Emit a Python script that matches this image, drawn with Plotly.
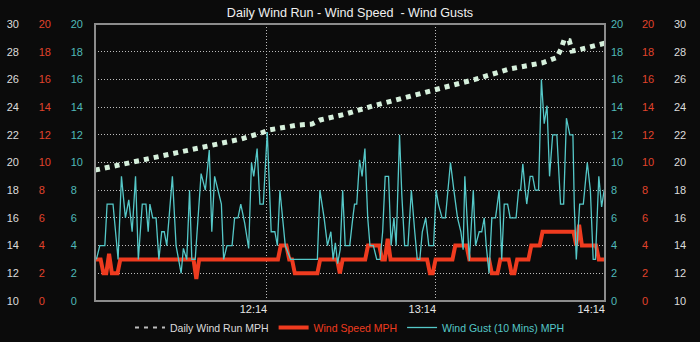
import plotly.graph_objects as go
import pandas as pd

# ---------------- data (minutes after 11:13:06) ----------------
BASE = pd.Timestamp("2024-06-01 11:13:06")

run_minutes = [0, 14, 28, 42, 52, 59, 62, 72, 77, 80, 89, 99, 111, 121, 135, 147,
               159, 164, 165.5, 166.7, 168.5, 169.5, 171, 181.5]
run_mph = [19.45, 20.05, 20.7, 21.3, 21.7, 22.13, 22.36, 22.7, 22.77, 23.07, 23.5, 24.1,
           24.73, 25.2, 26.0, 26.74, 27.2, 27.57, 28.16, 28.87, 28.8, 28.05, 28.1, 28.63]

speed_minutes = list(range(182))
speed_mph = [
    3, 3, 3, 2, 2, 3.4, 2, 2, 2, 3,
    3, 3, 3, 3, 3, 3, 3, 3, 3, 3,
    3, 3, 3, 3, 3, 3, 3, 3, 3, 3,
    3, 3, 3, 3, 3, 3, 1.6, 3, 3, 3,
    3, 3, 3, 3, 3, 3, 3, 3, 3, 3,
    3, 3, 3, 3, 3, 3, 3, 3, 3, 3,
    3, 3, 3, 3, 3, 3, 4, 4, 4, 3,
    3, 2, 2, 2, 2, 2, 2, 2, 2, 2,
    3, 3, 3, 3, 3, 3, 3, 2, 3, 3,
    3, 3, 3, 3, 3, 3, 3, 4, 4, 4,
    4, 4, 3, 3, 4.5, 3, 3, 3, 3, 3,
    3, 3, 3, 3, 3, 3, 3, 3, 3, 2,
    2, 3, 3, 3, 3, 3, 3, 3, 4, 4,
    4, 4, 4, 3, 3, 3, 3, 3, 3, 3,
    3, 2, 2, 2, 3, 3, 3, 3, 2, 2,
    3, 3, 3, 3, 3, 4, 4, 4, 4, 5,
    5, 5, 5, 5, 5, 5, 5, 5, 5, 5,
    5, 4, 5.5, 4, 4, 4, 4, 4, 4, 3,
    3, 3,
]

gust_minutes = [
    0.5, 1.7, 3.5, 4.3, 6.4, 8.2, 9.4, 10.8, 12.0, 13.2, 14.4, 15.4, 16.8, 18.1, 18.9, 19.5,
    20.5, 21.7, 22.7, 23.7, 24.6, 25.5, 27.5, 28.8, 30.6,
    31.4, 32.6, 33.6, 34.4, 35.6, 37.7, 39.2, 40.6, 41.5, 42.5, 43.7, 44.9, 45.7, 46.9, 48.7,
    49.6, 50.8, 51.8, 53.2, 54.6, 55.6, 56.4, 57.6, 58.6, 59.8,
    61.2, 62.6, 63.9, 64.8, 65.7, 67.6, 69.5, 79.0, 79.9, 81.4, 82.6, 83.8, 84.6, 85.4, 86.2,
    87.1, 88.0, 88.9, 90.5,
    91.6, 92.2, 93.0, 94.0, 94.9, 95.9, 96.9, 97.7, 98.9, 100.1, 101.3, 102.2, 103.1, 104.3,
    105.2, 106.2, 107.0, 108.2, 109.0, 110.0, 111.2, 112.4, 113.6, 114.5, 115.4, 116.3, 117.5,
    118.6, 120.3, 121.2,
    122.0, 123.3, 124.5, 126.3, 127.5, 128.8, 130.0, 130.8, 131.4, 132.3, 133.0, 134.4, 135.2,
    136.5, 137.4, 138.3, 139.0, 140.0, 141.0, 142.3, 143.6, 144.5, 145.4, 146.6, 147.5, 149.6,
    150.5, 151.2,
    152.0, 152.8, 153.4, 154.6, 155.5, 156.4, 157.6, 158.6, 159.6, 160.6, 161.5, 162.6, 164.1,
    165.4, 166.5, 167.5, 168.7, 169.8, 170.3, 171.0, 172.2, 173.5, 174.9, 176.0, 177.0, 177.8,
    179.0, 180.0, 180.9, 181.5,
]
gust_mph = [
    3, 4, 4, 7, 7, 3, 9, 6, 7.3, 5, 9, 3, 7, 7, 5, 7,
    6, 6, 3, 5, 5, 4, 9, 4, 2,
    3.8, 3, 8, 3, 3, 9.2, 8, 10.9, 5, 9, 8, 7, 3, 4, 4,
    6, 6, 7, 5.6, 3.8, 10, 9, 11, 7, 7,
    12.2, 5, 5, 4, 8, 4, 3, 3, 8, 6, 4, 5, 3, 4.2, 2.7,
    3.7, 8, 4, 4,
    6, 7, 7, 10.2, 9, 11, 6, 4, 4, 3, 3, 5, 9, 9,
    4, 6, 4, 12, 7.7, 4, 4, 8, 5, 3, 3, 5, 6,
    4, 4, 8,
    7, 6, 6, 10, 8, 6, 5, 3.7, 9, 5, 2.9, 8, 4,
    5, 5, 6, 4, 2, 6, 6, 8, 3, 7, 7, 6, 6,
    8, 8,
    9.9, 8.1, 7, 9, 9, 8, 8, 16, 12.8, 14.1, 9, 12, 12,
    7, 7, 13.2, 12, 12, 6.8, 3, 7, 7, 10, 8, 3, 3,
    9, 6.8, 8, 8,
]

x_tick_times = ["12:14", "13:14", "14:14"]
run_ticks = [10, 12, 14, 16, 18, 20, 22, 24, 26, 28, 30]
mph_ticks = [0, 2, 4, 6, 8, 10, 12, 14, 16, 18, 20]

# ---------------- styling ----------------
BG = "#0b0b0b"
WHITE = "#dcdcdc"
RUN_COL = "#d6f0dc"
RED = "#ef3b1f"
RED_LBL = "#e0432c"
TEAL = "#55c8c8"
TEAL_LBL = "#4fb9b9"
FONT = "Liberation Sans, Arial, sans-serif"
W = 700.0


def t(m):
    return BASE + pd.to_timedelta(m, unit="min")


def day_time(hm):
    return pd.Timestamp(f"2024-06-01 {hm}:00")


run_x = [t(m) for m in run_minutes]
speed_x = [t(m) for m in speed_minutes]
gust_x = [t(m) for m in gust_minutes]

fig = go.Figure()
fig.add_trace(go.Scatter(x=run_x, y=run_mph, yaxis="y", mode="lines",
                         line=dict(color=RUN_COL, width=5, dash="5px,5px"),
                         name="Daily Wind Run MPH", showlegend=False))
fig.add_trace(go.Scatter(x=[None], y=[None], yaxis="y", mode="lines",
                         line=dict(color="#bdbdbd", width=2, dash="4px,5px"),
                         name="<span style='color:#dcdcdc'>Daily Wind Run MPH</span>"))
fig.add_trace(go.Scatter(x=speed_x, y=speed_mph, yaxis="y2", mode="lines",
                         line=dict(color=RED, width=4),
                         name=f"<span style='color:{RED}'>Wind Speed MPH</span>"))
fig.add_trace(go.Scatter(x=gust_x, y=gust_mph, yaxis="y3", mode="lines",
                         line=dict(color=TEAL, width=1.3),
                         name=f"<span style='color:{TEAL}'>Wind Gust (10 Mins) MPH</span>"))
# empty traces so right-side axes get drawn
for ax in ["y4", "y5", "y6"]:
    fig.add_trace(go.Scatter(x=[None], y=[None], yaxis=ax, showlegend=False, hoverinfo="skip"))


def pad_left(vals):
    return [str(v) if v >= 10 else f"{v}\u2007" for v in vals]


def yax(rng, vals, texts, color, side, pos, overlay=True, grid=False):
    d = dict(range=rng, tickvals=vals, ticktext=texts, side=side, anchor="free",
             position=pos, showline=False, zeroline=False, ticks="",
             showgrid=grid, tickfont=dict(color=color, size=11, family=FONT),
             fixedrange=True)
    if grid:
        d.update(gridcolor="#bdbdbd", griddash="1px,2px", gridwidth=1)
    if overlay:
        d["overlaying"] = "y"
    return d


fig.update_layout(
    width=700, height=342,
    margin=dict(l=0, r=0, t=24, b=36),
    paper_bgcolor=BG, plot_bgcolor=BG,
    font=dict(family=FONT, color=WHITE, size=11),
    title=dict(text="Daily Wind Run - Wind Speed \u00a0- Wind Gusts",
               x=0.5, xanchor="center", y=1 - 13 / 342, yanchor="middle",
               yref="container", font=dict(size=12.6, color="#f0f0f0", family=FONT)),
    xaxis=dict(domain=[95 / W, 605 / W], type="date",
               range=[t(0), t(181.2)],
               tickvals=[day_time(h) for h in x_tick_times], ticktext=x_tick_times,
               showgrid=True, gridcolor="#bdbdbd", griddash="1px,2px", gridwidth=1,
               ticks="", zeroline=False, showline=False, ticklabelshift=-13,
               tickfont=dict(color="#e6e6e6", size=11, family=FONT), anchor="y"),
    yaxis=yax([10, 30], run_ticks, [str(v) for v in run_ticks], WHITE, "left",
              19 / W, overlay=False, grid=True),
    yaxis2=yax([0, 20], mph_ticks, pad_left(mph_ticks), RED_LBL, "left", 51 / W),
    yaxis3=yax([0, 20], mph_ticks, pad_left(mph_ticks), TEAL_LBL, "left", 83 / W),
    yaxis4=yax([0, 20], mph_ticks, [str(v) for v in mph_ticks], TEAL_LBL, "right", 610 / W),
    yaxis5=yax([0, 20], mph_ticks, [str(v) for v in mph_ticks], RED_LBL, "right", 641 / W),
    yaxis6=yax([10, 30], run_ticks, [str(v) for v in run_ticks], WHITE, "right", 673 / W),
    legend=dict(orientation="h", x=0.5, xanchor="center", y=-27 / 282, yanchor="middle",
                font=dict(size=10.5, family=FONT), bgcolor="rgba(0,0,0,0)"),
    shapes=[dict(type="rect", xref="x domain", yref="y domain", x0=0, x1=1, y0=0, y1=1,
                 line=dict(color="#8c8c8c", width=2), layer="above")],
    showlegend=True,
)

fig.write_html("out.html")
